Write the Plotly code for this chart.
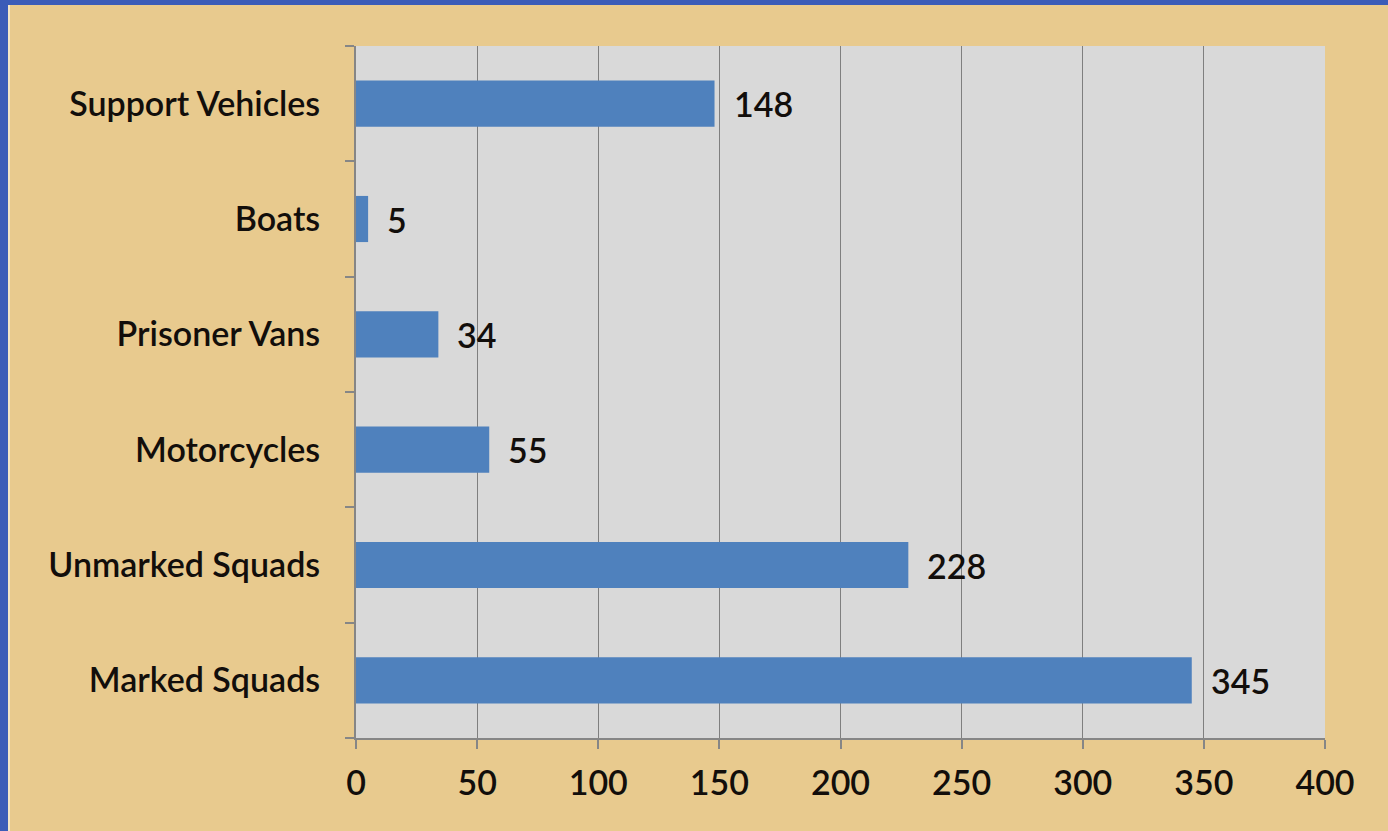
import plotly.graph_objects as go

categories = ["Marked Squads", "Unmarked Squads", "Motorcycles", "Prisoner Vans", "Boats", "Support Vehicles"]
values = [345, 228, 55, 34, 5, 148]
x_ticks = [0, 50, 100, 150, 200, 250, 300, 350, 400]

FONT = "Lato"
TXT = "#120e0b"
FS = 34
WT = 600
W, H = 1388, 831
L, R, T, B = 356, 63, 46, 93
PW, PH = W - L - R, H - T - B

fig = go.Figure()
fig.add_trace(go.Bar(
    y=categories, x=values, orientation="h",
    marker=dict(color="#4f81bd", line=dict(width=0)),
    hoverinfo="x+y",
))

annotations = []
for c, v in zip(categories, values):
    annotations.append(dict(x=v, y=c, xref="x", yref="y", text=str(v),
                            showarrow=False, xanchor="left", xshift=17,
                            font=dict(family=FONT, size=FS, color=TXT, weight=WT)))

fig.update_layout(
    width=W, height=H,
    margin=dict(l=L, r=R, t=T, b=B),
    paper_bgcolor="#e8ca8e",
    plot_bgcolor="#d9d9d9",
    bargap=0.6,
    showlegend=False,
    annotations=annotations,
    xaxis=dict(range=[0, 400], tickvals=x_ticks, showgrid=True, gridcolor="#7f7f7f", gridwidth=1.3,
               showline=True, linecolor="#868686", linewidth=2, ticks="outside", ticklen=9,
               tickcolor="#868686", tickwidth=1.5, zeroline=False, ticklabelstandoff=5,
               tickfont=dict(family=FONT, size=FS, color=TXT, weight=WT), fixedrange=True),
    yaxis=dict(categoryorder="array", categoryarray=categories, showline=True, linecolor="#868686",
               linewidth=2, ticks="outside", ticklen=9, tickson="boundaries", tickcolor="#868686",
               tickwidth=1.5, showgrid=False, ticklabelstandoff=27,
               tickfont=dict(family=FONT, size=FS, color=TXT, weight=WT), fixedrange=True),
)

# blue frame (top and left edges) in paper coordinates
fig.add_shape(type="rect", xref="paper", yref="paper", x0=-L / PW, x1=(W - L) / PW,
              y0=1 + (T - 5) / PH, y1=1 + T / PH,
              fillcolor="#3b5cb8", line=dict(width=0), layer="below")
fig.add_shape(type="rect", xref="paper", yref="paper", x0=-L / PW, x1=-(L - 8) / PW,
              y0=-B / PH, y1=1 + T / PH,
              fillcolor="#3b5cb8", line=dict(width=0), layer="below")
fig.add_shape(type="rect", xref="paper", yref="paper", x0=-(L - 8) / PW, x1=-(L - 10) / PW,
              y0=-B / PH, y1=1 + (T - 5) / PH,
              fillcolor="#f3e6c6", line=dict(width=0), layer="below")

fig.write_html("out.html", config={"displayModeBar": False},
               post_script="document.body.style.margin='0';document.body.style.overflow='hidden';")
